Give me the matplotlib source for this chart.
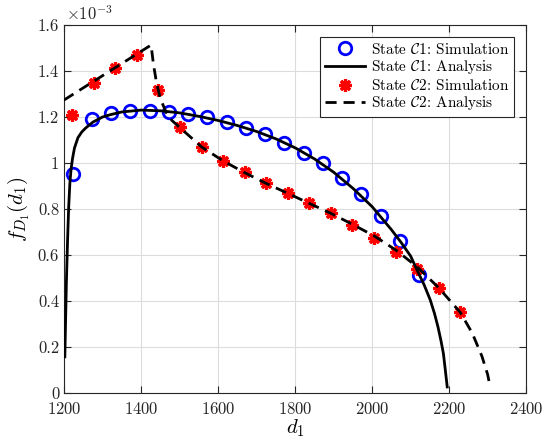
import numpy as np
import matplotlib
matplotlib.use("Agg")
import matplotlib.pyplot as plt
from matplotlib.ticker import FixedLocator, FormatStrFormatter

plt.rcParams['font.family'] = 'serif'
plt.rcParams['font.serif'] = ['cmr10', 'DejaVu Serif']
plt.rcParams['mathtext.fontset'] = 'cm'
plt.rcParams['axes.formatter.use_mathtext'] = True

# state C1 simulation (values in units of 1e-3)
c1_sim_x = [1222, 1272, 1322, 1372, 1422, 1472, 1522, 1572, 1622, 1672,
            1722, 1772, 1822, 1872, 1922, 1972, 2022, 2072, 2122]
c1_sim_y = [0.950, 1.190, 1.217, 1.228, 1.228, 1.222, 1.212, 1.199, 1.178, 1.153,
            1.128, 1.088, 1.043, 0.998, 0.933, 0.865, 0.770, 0.660, 0.512]

# state C1 analysis
c1_ana_x = [1202, 1204, 1206, 1209, 1212, 1215, 1218, 1222, 1227, 1236, 1246,
            1256, 1275, 1300, 1320, 1350, 1400, 1450, 1500, 1550, 1600, 1650,
            1700, 1750, 1800, 1850, 1900, 1950, 2000, 2050, 2075, 2100, 2119,
            2135, 2151, 2162, 2171, 2179, 2185, 2190, 2195]
c1_ana_y = [0.157, 0.32, 0.48, 0.66, 0.81, 0.91, 0.97, 1.02, 1.065, 1.11, 1.135,
            1.152, 1.178, 1.200, 1.210, 1.222, 1.230, 1.227, 1.218, 1.203, 1.185, 1.163,
            1.137, 1.105, 1.066, 1.018, 0.960, 0.890, 0.810, 0.710, 0.655, 0.595, 0.526,
            0.470, 0.404, 0.345, 0.287, 0.225, 0.172, 0.100, 0.026]

# state C2 simulation
c2_sim_x = [1221, 1277, 1333, 1389, 1445, 1501, 1557, 1613, 1669, 1725,
            1781, 1837, 1893, 1949, 2005, 2061, 2117, 2173, 2229]
c2_sim_y = [1.208, 1.350, 1.413, 1.470, 1.317, 1.155, 1.070, 1.009, 0.959, 0.912,
            0.870, 0.825, 0.783, 0.729, 0.674, 0.613, 0.541, 0.457, 0.350]

# state C2 analysis
c2_ana_x = [1200, 1426, 1432, 1440, 1450, 1465, 1480, 1500, 1557, 1613, 1669,
            1725, 1781, 1837, 1893, 1949, 2005, 2061, 2117, 2173, 2229, 2260,
            2285, 2300, 2306]
c2_ana_y = [1.274, 1.513, 1.43, 1.35, 1.28, 1.22, 1.185, 1.155, 1.070, 1.009, 0.958,
            0.911, 0.868, 0.824, 0.781, 0.733, 0.683, 0.622, 0.548, 0.457, 0.350, 0.26,
            0.16, 0.08, 0.03]

fig = plt.figure(figsize=(5.43, 4.47), dpi=100)
ax = fig.add_axes([0.118, 0.121, 0.851, 0.823])

ax.plot(c1_sim_x, c1_sim_y, 'o', color='blue', mfc='none', ms=9, mew=2,
        label=r'State $\mathcal{C}1$: Simulation', zorder=3)
ax.plot(c1_ana_x, c1_ana_y, '-', color='black', lw=2,
        label=r'State $\mathcal{C}1$: Analysis', zorder=4)
ax.plot(c2_sim_x, c2_sim_y, ls='none', marker=(8, 2, 0), color='red', ms=9, mew=2.3,
        label=r'State $\mathcal{C}2$: Simulation', zorder=3)
ax.plot(c2_ana_x, c2_ana_y, '--', color='black', lw=2, dashes=(4, 2.5),
        label=r'State $\mathcal{C}2$: Analysis', zorder=4)

ax.set_xlim(1200, 2400)
ax.set_ylim(0, 1.6)
ax.xaxis.set_major_locator(FixedLocator(np.arange(1200, 2401, 200)))
ax.yaxis.set_major_locator(FixedLocator(np.arange(0, 1.61, 0.2)))
ax.yaxis.set_major_formatter(FormatStrFormatter('%g'))
ax.grid(True, color='#dcdcdc', lw=0.8)
ax.set_axisbelow(True)
ax.tick_params(direction='in', top=True, right=True, labelsize=12,
               colors='#262626', length=5)
ax.tick_params(axis='x', pad=6)
for s in ax.spines.values():
    s.set_color('#262626')
    s.set_linewidth(0.8)

ax.text(0.005, 1.005, r'$\times10^{-3}$', transform=ax.transAxes,
        fontsize=12, color='#262626', va='bottom', ha='left')
ax.set_xlabel(r'$d_1$', fontsize=15, labelpad=0)
ax.set_ylabel(r'$f_{D_1}(d_1)$', fontsize=15, labelpad=4)

leg = ax.legend(loc='upper right', fontsize=11, frameon=True, fancybox=False,
                edgecolor='#262626', framealpha=1, borderpad=0.3,
                labelspacing=0.1, handlelength=2.6, handletextpad=0.4,
                borderaxespad=0.8)
leg.get_frame().set_linewidth(0.8)

fig.savefig('out.png', dpi=100)
